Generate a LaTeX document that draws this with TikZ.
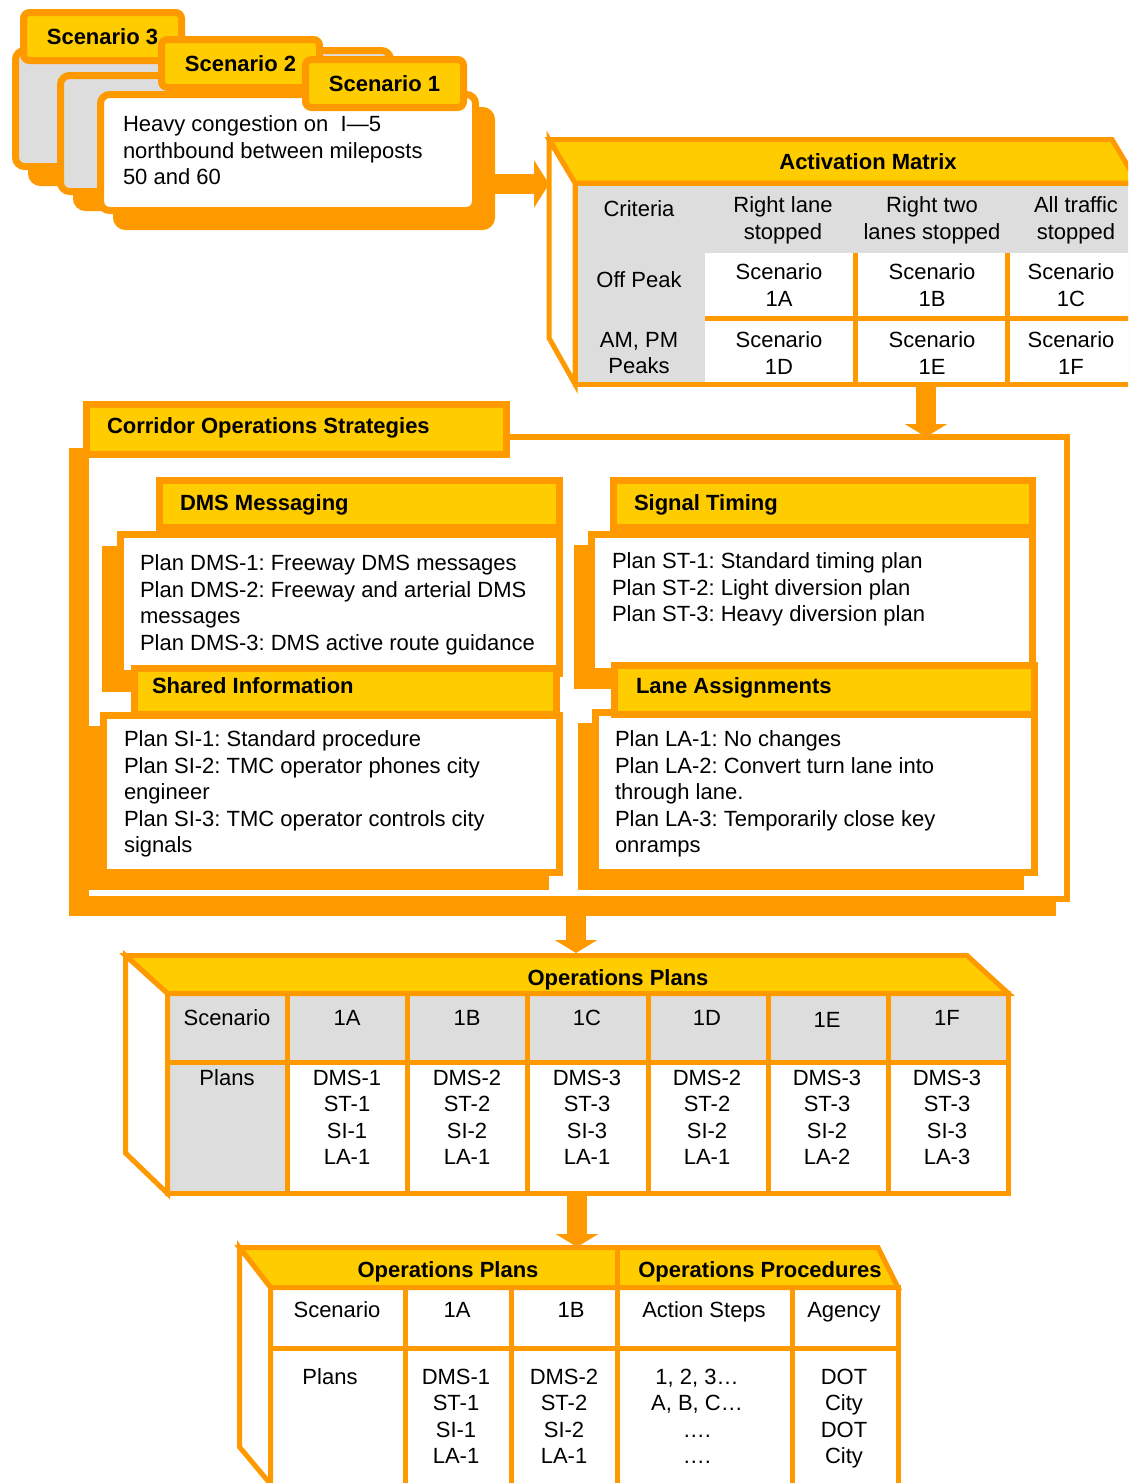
\documentclass[tikz,border=0pt]{standalone}
\usepackage{fontspec}
\setmainfont{Liberation Sans}
\usetikzlibrary{arrows.meta}
\definecolor{org}{HTML}{FF9900}
\definecolor{ylw}{HTML}{FFCC00}
\definecolor{gry}{HTML}{DDDDDD}
\frenchspacing
\newcommand\txtfont{\fontsize{22pt}{26.5pt}\selectfont}
\newcommand\hdfont{\fontsize{22pt}{26.5pt}\selectfont\bfseries}
\tikzset{
  ob/.style={rectangle, inner sep=0pt, outer sep=0pt, anchor=north west, draw=org},
  card/.style={ob, line width=7pt, rounded corners=9pt, minimum width=375pt, minimum height=116pt},
  cardsh/.style={card, fill=org},
  tabbox/.style={ob, line width=7pt, rounded corners=6pt, fill=ylw, minimum width=158pt, minimum height=48pt, font=\hdfont},
  headbox/.style={ob, line width=7pt, fill=ylw},
  bodybox/.style={ob, line width=7pt, fill=white},
  shadebox/.style={ob, line width=7pt, fill=org},
  ltext/.style={inner sep=0pt, outer sep=0pt, anchor=north west, align=left, font=\txtfont},
  ctext/.style={inner sep=0pt, outer sep=0pt, anchor=north, align=center, font=\txtfont},
  ltitle/.style={ltext, font=\hdfont},
  ctitle/.style={ctext, font=\hdfont},
  tline/.style={draw=org, line width=5pt},
  fatarrow/.style={draw=org, line width=20pt, -{Triangle[width=42pt,length=13pt]}},
}
\begin{document}
\begin{tikzpicture}[x=1pt,y=-1pt]
\useasboundingbox (0,0) rectangle (1128,1483);
\clip (0,0) rectangle (1128,1483);
\fill[white] (0,0) rectangle (1128,1483);

% ---------- stacked scenario cards ----------
\node[cardsh] (card3sh) at (31.5,66.5) {};
\node[card, fill=gry] (card3) at (15.5,50.5) {};
\node[tabbox] (tab3) at (23.5,12.5) {Scenario 3};
\node[cardsh] (card2sh) at (76.5,91.5) {};
\node[card, fill=gry] (card2) at (60.5,75.5) {};
\node[tabbox] (tab2) at (161.5,39.5) {Scenario 2};
\node[cardsh] (card1sh) at (116.5,110.5) {};
\node[card, fill=white] (card1) at (100.5,94.5) {};
\node[tabbox] (tab1) at (305.5,59.5) {Scenario 1};
\node[ltext] (incident) at (123,116) {Heavy congestion on~~I—5\\northbound between mileposts\\50 and 60};

% ---------- activation matrix ----------
\fill[gry] (575,183) rectangle (1138,384);
\fill[white] (705,253) rectangle (1138,384);
\draw[tline] (855,253) -- (855,384) (1007,253) -- (1007,384) (705,318) -- (1138,318);
\node[ob, line width=5pt, minimum width=563pt, minimum height=201pt] (amtab) at (575,183) {};
\draw[tline, fill=ylw] (549,139.5) -- (1112,139.5) -- (1138,183) -- (575,183) -- cycle;
\draw[tline, fill=white] (549,139.5) -- (575,183) -- (575,384) -- (549,338) -- cycle;
\coordinate (amface) at (549,184);
\node[ctitle] (amtitle) at (868,154) {Activation Matrix};
\node[ctext] (amcrit) at (639,201) {Criteria};
\node[ctext] (amh1) at (783,197) {Right lane\\stopped};
\node[ctext] (amh2) at (932,197) {Right two\\lanes stopped};
\node[ctext] (amh3) at (1076,197) {All traffic\\stopped};
\node[ctext] (amr1) at (639,272) {Off Peak};
\node[ctext] (amr2) at (639,332) {AM, PM\\Peaks};
\node[ctext] (am1a) at (779,264) {Scenario\\1A};
\node[ctext] (am1b) at (932,264) {Scenario\\1B};
\node[ctext] (am1c) at (1071,264) {Scenario\\1C};
\node[ctext] (am1d) at (779,332) {Scenario\\1D};
\node[ctext] (am1e) at (932,332) {Scenario\\1E};
\node[ctext] (am1f) at (1071,332) {Scenario\\1F};

\draw[fatarrow, -{Triangle[width=47pt,length=15pt]}] (card1sh.east |- amface) -- (amface);

% ---------- corridor operations strategies ----------
\node[ob, line width=6pt, fill=org, minimum width=981pt, minimum height=462pt] (corrsh) at (72,451) {};
\node[ob, line width=6pt, fill=white, minimum width=981pt, minimum height=462pt] (corr) at (86,437) {};
\node[headbox, minimum width=420pt, minimum height=50pt] (corrhd) at (86.5,404.5) {};
\node[ltitle] (corrtitle) at (107,418) {Corridor Operations Strategies};

\coordinate (a2) at (926,0);
\draw[fatarrow] (a2 |- amtab.south) -- (a2 |- corr.north);

% DMS messaging
\node[shadebox, minimum width=439pt, minimum height=139pt] (dmssh) at (105.5,549.5) {};
\node[bodybox, minimum width=439pt, minimum height=139pt] (dmsbody) at (120.5,534.5) {};
\node[headbox, minimum width=400pt, minimum height=47pt] (dmshd) at (159.5,480.5) {};
\node[ltitle] (dmstitle) at (180,495) {DMS Messaging};
\node[ltext] (dmstext) at (140,555) {Plan DMS-1: Freeway DMS messages\\Plan DMS-2: Freeway and arterial DMS\\messages\\Plan DMS-3: DMS active route guidance};

% signal timing
\node[shadebox, minimum width=441pt, minimum height=137pt] (stsh) at (577.5,548.5) {};
\node[bodybox, minimum width=441pt, minimum height=137pt] (stbody) at (591.5,534.5) {};
\node[headbox, minimum width=419pt, minimum height=47pt] (sthd) at (613.5,480.5) {};
\node[ltitle] (sttitle) at (634,495) {Signal Timing};
\node[ltext] (sttext) at (612,553) {Plan ST-1: Standard timing plan\\Plan ST-2: Light diversion plan\\Plan ST-3: Heavy diversion plan};

% shared information
\node[shadebox, minimum width=456pt, minimum height=157pt] (sish) at (89.5,729.5) {};
\node[bodybox, minimum width=456pt, minimum height=157pt] (sibody) at (103.5,715.5) {};
\node[headbox, minimum width=422pt, minimum height=46pt] (sihd) at (134.5,668.5) {};
\node[ltitle] (sititle) at (152,678) {Shared Information};
\node[ltext] (sitext) at (124,731) {Plan SI-1: Standard procedure\\Plan SI-2: TMC operator phones city\\engineer\\Plan SI-3: TMC operator controls city\\signals};

% lane assignments
\node[shadebox, minimum width=439pt, minimum height=160pt] (lash) at (581.5,726.5) {};
\node[bodybox, minimum width=439pt, minimum height=160pt] (labody) at (595.5,712.5) {};
\node[headbox, minimum width=420pt, minimum height=49pt] (lahd) at (614.5,665.5) {};
\node[ltitle] (latitle) at (636,678) {Lane Assignments};
\node[ltext] (latext) at (615,731) {Plan LA-1: No changes\\Plan LA-2: Convert turn lane into\\through lane.\\Plan LA-3: Temporarily close key\\onramps};

% ---------- operations plans ----------
\fill[gry] (167.5,993.5) rectangle (1008.5,1062);
\fill[gry] (167.5,1062) rectangle (287,1193.5);
\fill[white] (287,1062) rectangle (1008.5,1193.5);
\node[ob, line width=5pt, minimum width=841pt, minimum height=200pt] (optab) at (167.5,993.5) {};
\foreach \x in {287,407,527,648,768,888} \draw[tline] (\x,993.5) -- (\x,1193.5);
\draw[tline] (167.5,1062) -- (1008.5,1062);
\draw[tline, fill=ylw] (125.5,955.5) -- (967,955.5) -- (1008.5,993.5) -- (167.5,993.5) -- cycle;
\draw[tline, fill=white] (125.5,955.5) -- (167.5,993.5) -- (167.5,1193.5) -- (125.5,1153) -- cycle;
\coordinate (a3) at (576,953);
\draw[fatarrow] (a3 |- corrsh.south) -- (a3);
\node[ctitle] (optitle) at (618,970) {Operations Plans};
\node[ctext] (opscen) at (227,1010) {Scenario};
\node[ctext] (oph1a) at (347,1010) {1A};
\node[ctext] (oph1b) at (467,1010) {1B};
\node[ctext] (oph1c) at (587,1010) {1C};
\node[ctext] (oph1d) at (707,1010) {1D};
\node[ctext] (oph1e) at (827,1012) {1E};
\node[ctext] (oph1f) at (947,1010) {1F};
\node[ctext] (opplans) at (227,1070) {Plans};
\node[ctext] (op1a) at (347,1070) {DMS-1\\ST-1\\SI-1\\LA-1};
\node[ctext] (op1b) at (467,1070) {DMS-2\\ST-2\\SI-2\\LA-1};
\node[ctext] (op1c) at (587,1070) {DMS-3\\ST-3\\SI-3\\LA-1};
\node[ctext] (op1d) at (707,1070) {DMS-2\\ST-2\\SI-2\\LA-1};
\node[ctext] (op1e) at (827,1070) {DMS-3\\ST-3\\SI-2\\LA-2};
\node[ctext] (op1f) at (947,1070) {DMS-3\\ST-3\\SI-3\\LA-3};

% ---------- operations plans and procedures ----------
\fill[white] (270.5,1287.5) rectangle (898,1485);
\node[ob, line width=5pt, minimum width=627.5pt, minimum height=197.5pt] (bttab) at (270.5,1287.5) {};
\foreach \x in {405,511,617,792} \draw[tline] (\x,1287.5) -- (\x,1485);
\draw[tline] (270.5,1348) -- (898,1348);
\draw[tline, fill=ylw] (239.5,1247.5) -- (878,1247.5) -- (898,1287.5) -- (270.5,1287.5) -- cycle;
\draw[tline] (617,1247.5) -- (617,1287.5);
\draw[tline, fill=white] (239.5,1247.5) -- (270.5,1287.5) -- (270.5,1484) -- (239.5,1447) -- cycle;
\coordinate (a4) at (577,1247);
\draw[fatarrow] (a4 |- optab.south) -- (a4);
\node[ctitle] (bttitle1) at (448,1262) {Operations Plans};
\node[ctitle] (bttitle2) at (760,1262) {Operations Procedures};
\node[ctext] (btscen) at (337,1302) {Scenario};
\node[ctext] (bth1a) at (457,1302) {1A};
\node[ctext] (bth1b) at (571,1302) {1B};
\node[ctext] (btsteps) at (704,1302) {Action Steps};
\node[ctext] (btagency) at (844,1302) {Agency};
\node[ctext] (btplans) at (330,1369) {Plans};
\node[ctext] (bt1a) at (456,1369) {DMS-1\\ST-1\\SI-1\\LA-1};
\node[ctext] (bt1b) at (564,1369) {DMS-2\\ST-2\\SI-2\\LA-1};
\node[ctext] (btact) at (697,1369) {1, 2, 3…\\A, B, C…\\….\\….};
\node[ctext] (btag) at (844,1369) {DOT\\City\\DOT\\City};
\end{tikzpicture}
\end{document}
